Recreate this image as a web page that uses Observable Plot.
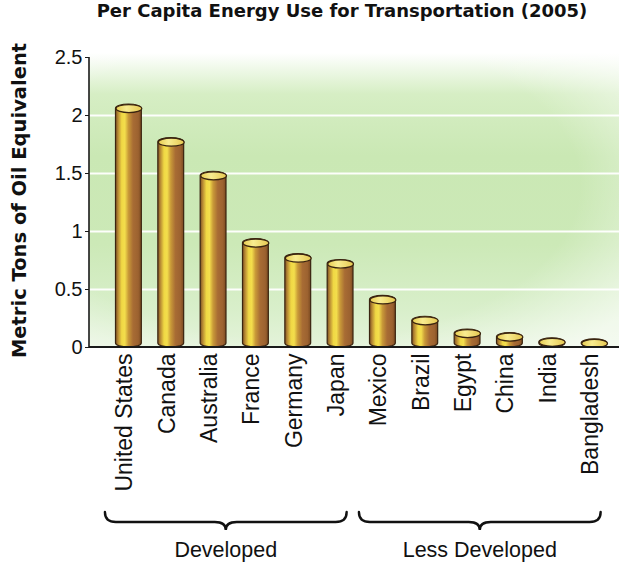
<!DOCTYPE html>
<html>
<head>
<meta charset="utf-8">
<script src="https://cdn.jsdelivr.net/npm/d3@7"></script>
<script src="https://cdn.jsdelivr.net/npm/@observablehq/plot@0.6"></script>
<style>
  body { margin: 0; background: #fff; width: 619px; }
  #title {
    height: 40px; line-height: 40px; box-sizing: border-box;
    padding-left: 65px; text-align: center; color: #111;
    font: bold 18px "DejaVu Sans", "Liberation Sans", Arial, sans-serif;
    white-space: nowrap;
  }
  #chart svg { display: block; }
</style>
</head>
<body>
<div id="title">Per Capita Energy Use for Transportation (2005)</div>
<div id="chart"></div>
<script>
// Per-capita transportation energy use, metric tons of oil equivalent (2005)
const countries = ["United States", "Canada", "Australia", "France", "Germany", "Japan",
                   "Mexico", "Brazil", "Egypt", "China", "India", "Bangladesh"];
const values = [2.06, 1.77, 1.48, 0.90, 0.77, 0.72, 0.41, 0.23, 0.12, 0.09, 0.045, 0.035];

// Country groups shown with braces under the axis
const groupLabels = ["Developed", "Less Developed"];
const groupFirst = ["United States", "Mexico"];
const groupLast = ["Japan", "Bangladesh"];

// Y axis ticks and the white guide lines
const yTicks = [0, 0.5, 1, 1.5, 2, 2.5];
const gridValues = [0.5, 1, 1.5, 2];

const yLabel = "Metric Tons of Oil Equivalent";

const data = countries.map((country, i) => ({country, value: values[i]}));

const W = 619, H = 523;
const font = '"Liberation Sans", Arial, Helvetica, sans-serif';
const boldFont = '"DejaVu Sans", "Liberation Sans", Arial, sans-serif';
const xRange = [115.5, 607];
const padInner = 0.39;
const bw = d3.scaleBand(countries, xRange).paddingInner(padInner).paddingOuter(0).bandwidth();
const capRy = 4;

// elliptical top cap of each cylinder
const capSymbol = {
  draw(ctx) {
    const rx = bw / 2, ry = capRy, k = 0.5523;
    ctx.moveTo(-rx, 0);
    ctx.bezierCurveTo(-rx, -ry * k, -rx * k, -ry, 0, -ry);
    ctx.bezierCurveTo(rx * k, -ry, rx, -ry * k, rx, 0);
    ctx.bezierCurveTo(rx, ry * k, rx * k, ry, 0, ry);
    ctx.bezierCurveTo(-rx * k, ry, -rx, ry * k, -rx, 0);
    ctx.closePath();
  }
};

const svgNS = "http://www.w3.org/2000/svg";
function el(name, attrs, parent) {
  const e = document.createElementNS(svgNS, name);
  for (const k in attrs) e.setAttribute(k, attrs[k]);
  if (parent) parent.appendChild(e);
  return e;
}
function gradient(defs, tag, id, attrs, stops) {
  const g = el(tag, Object.assign({id}, attrs), defs);
  for (const [o, c, a] of stops) el("stop", {offset: o, "stop-color": c, "stop-opacity": a ?? 1}, g);
}

// Background panel and gradients
function backdrop(index, scales, values, dims) {
  const g = el("g", {});
  const defs = el("defs", {}, g);
  gradient(defs, "linearGradient", "cyl", {x1: 0, x2: 1, y1: 0, y2: 0}, [
    ["0%", "#7d4f22"], ["10%", "#b88a34"], ["24%", "#f0d844"], ["36%", "#f3de4c"],
    ["50%", "#c99a38"], ["68%", "#a86c34"], ["88%", "#9c6230"], ["100%", "#7a4a20"]
  ]);
  gradient(defs, "linearGradient", "capFill", {x1: 0, x2: 1, y1: 0, y2: 0}, [
    ["0%", "#e8cc50"], ["40%", "#f8ec90"], ["100%", "#e6c850"]
  ]);
  gradient(defs, "linearGradient", "bgV", {x1: 0, x2: 0, y1: 0, y2: 1}, [
    ["0%", "#ffffff"], ["5%", "#f0f9ea"], ["14%", "#d6eec4"], ["35%", "#cae8b4"],
    ["65%", "#cce9b7"], ["88%", "#d9efcb"], ["100%", "#e4f3da"]
  ]);
  gradient(defs, "radialGradient", "bgR", {cx: 0.4, cy: 0.45, r: 0.75}, [
    ["0%", "#ffffff", 0], ["70%", "#ffffff", 0], ["100%", "#ffffff", 0.6]
  ]);
  const y0 = scales.y(0);
  const top = dims.marginTop - 4;
  const attrs = {x: dims.marginLeft, y: top, width: dims.width - dims.marginLeft, height: y0 - top};
  el("rect", Object.assign({fill: "url(#bgV)"}, attrs), g);
  el("rect", Object.assign({fill: "url(#bgR)"}, attrs), g);
  return g;
}

// Axis lines drawn over the bars' feet
function axisLines(index, scales, values, dims) {
  const g = el("g", {stroke: "#1a1a1a", fill: "none"});
  const y0 = scales.y(0);
  el("line", {x1: dims.marginLeft, x2: dims.marginLeft, y1: scales.y(2.5), y2: y0, "stroke-width": 1.6}, g);
  el("line", {x1: dims.marginLeft, x2: dims.width, y1: y0, y2: y0, "stroke-width": 2}, g);
  return g;
}

// Braces and group names under the country labels
function braces(index, scales, values, dims) {
  const g = el("g", {});
  const step = bw / (1 - padInner);
  const yTop = 472, yArm = 482, yTip = 490, r = 11;
  groupLabels.forEach((label, i) => {
    const x0 = scales.x(groupFirst[i]) - 0.25 * step;
    const x1 = scales.x(groupLast[i]) + bw - 0.15 * step;
    const cx = (x0 + x1) / 2;
    const d = `M${x0},${yTop} Q${x0},${yArm} ${x0 + r},${yArm} L${cx - r},${yArm} ` +
              `Q${cx},${yArm} ${cx},${yTip} Q${cx},${yArm} ${cx + r},${yArm} ` +
              `L${x1 - r},${yArm} Q${x1},${yArm} ${x1},${yTop}`;
    el("path", {d, fill: "none", stroke: "#111", "stroke-width": 2.4, "stroke-linecap": "round"}, g);
    const t = el("text", {x: cx, y: 517, "text-anchor": "middle", "font-size": 21.5,
                          "font-family": font, fill: "#111"}, g);
    t.textContent = label;
  });
  return g;
}

const chart = Plot.plot({
  width: W,
  height: H,
  marginTop: 17,
  marginBottom: 216,
  marginLeft: 89,
  marginRight: 0,
  style: {fontFamily: font, color: "#111", background: "transparent"},
  x: {type: "band", domain: countries, range: xRange, paddingInner: padInner, paddingOuter: 0, round: false},
  y: {domain: [0, 2.5]},
  marks: [
    backdrop,
    Plot.ruleY(gridValues, {stroke: "#ffffff", strokeWidth: 2, strokeOpacity: 0.95}),
    Plot.barY(data, {
      x: "country", y: "value",
      fill: "url(#cyl)", stroke: "#3a2410", strokeWidth: 1.2,
      rx: bw / 2, ry: capRy, insetTop: -capRy
    }),
    Plot.dot(data, {
      x: "country", y: "value", symbol: capSymbol, r: 5,
      fill: "url(#capFill)", stroke: "#3a2410", strokeWidth: 1.2
    }),
    axisLines,
    Plot.axisY({ticks: yTicks, tickFormat: d => String(d), tickSize: 4, tickPadding: 3,
                fontSize: 20, label: null, stroke: "#1a1a1a"}),
    Plot.axisX({tickRotate: -90, tickSize: 0, tickPadding: 6, fontSize: 23, dx: -4, label: null}),
    Plot.text([yLabel], {frameAnchor: "left", rotate: -90, dx: -70, dy: -2, fontWeight: "bold",
                         fontSize: 19.5, fontFamily: boldFont, textAnchor: "middle", fill: "#111"}),
    braces
  ]
});

document.getElementById("chart").appendChild(chart);
</script>
</body>
</html>
